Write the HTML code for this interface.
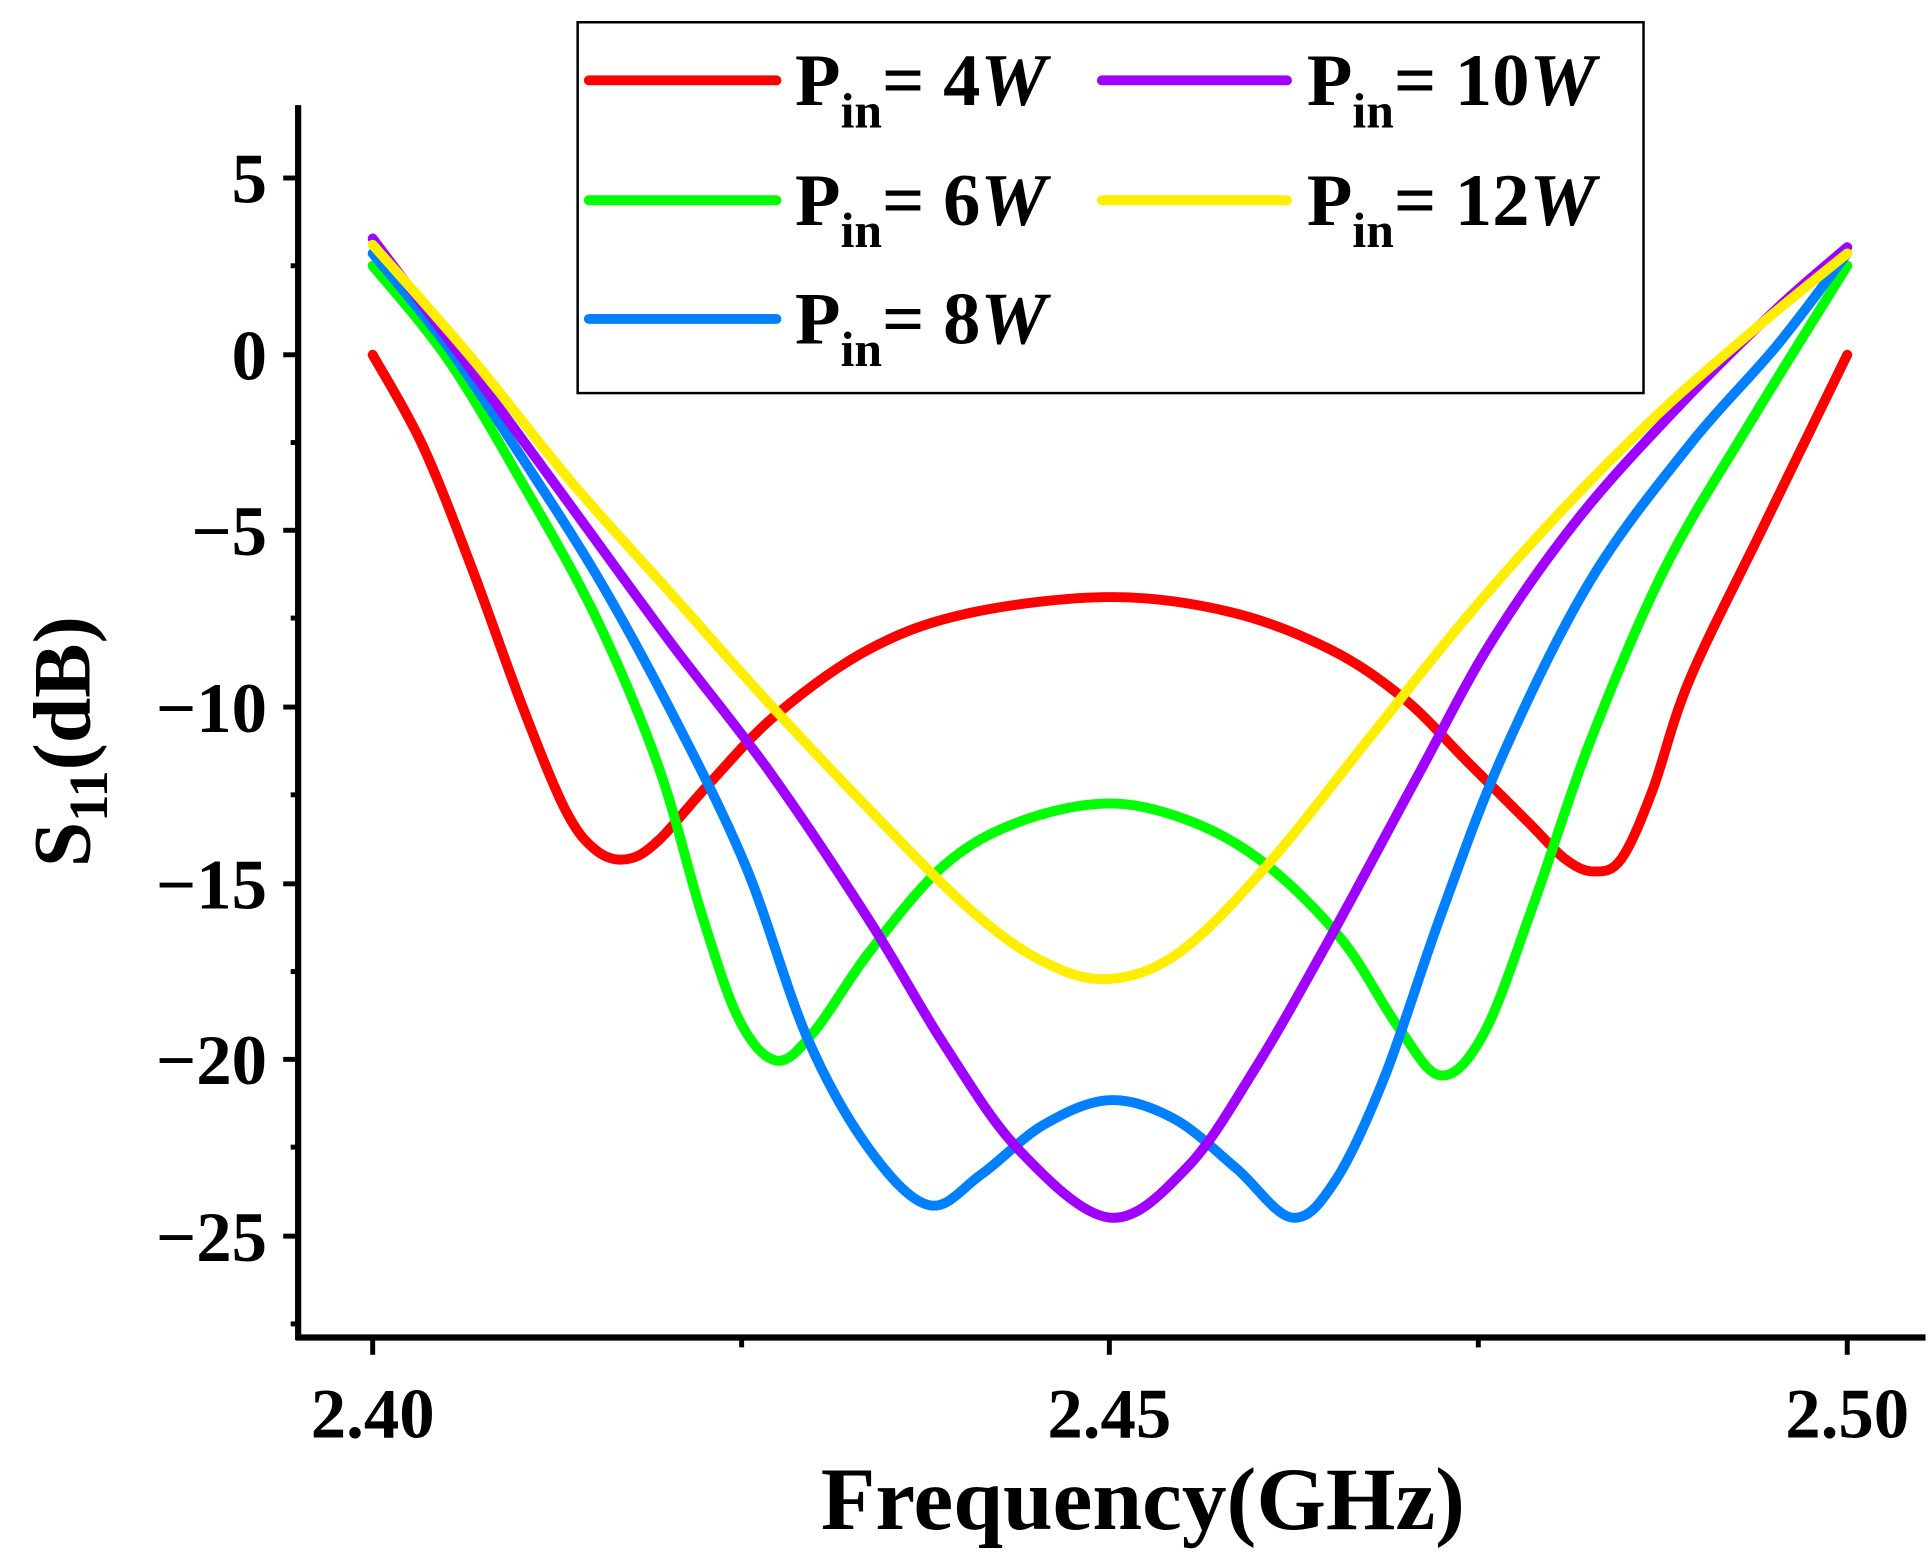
<!DOCTYPE html>
<html><head><meta charset="utf-8"><style>
html,body{margin:0;padding:0;background:#fff;}
svg{display:block;}
text{font-family:"Liberation Serif",serif;font-weight:bold;fill:#000;}
</style></head><body>
<svg id="s" width="1928" height="1560" viewBox="0 0 1552 1262" preserveAspectRatio="none" xmlns="http://www.w3.org/2000/svg">
<rect x="0" y="0" width="1552" height="1262" fill="#fff"/>
<g id="curves" fill="none" stroke-width="8" stroke-linejoin="round" stroke-linecap="round"></g>
<line x1="240" y1="85" x2="240" y2="1084" stroke="#000" stroke-width="5"/>
<line x1="238" y1="1082" x2="1550" y2="1082" stroke="#000" stroke-width="5"/>
<g stroke="#000" stroke-width="4">
<line x1="228" y1="144" x2="240" y2="144"/><line x1="228" y1="287" x2="240" y2="287"/>
<line x1="228" y1="429" x2="240" y2="429"/><line x1="228" y1="572" x2="240" y2="572"/>
<line x1="228" y1="715" x2="240" y2="715"/><line x1="228" y1="857" x2="240" y2="857"/>
<line x1="228" y1="1000" x2="240" y2="1000"/>
<line x1="234" y1="215" x2="240" y2="215"/><line x1="234" y1="358" x2="240" y2="358"/>
<line x1="234" y1="500" x2="240" y2="500"/><line x1="234" y1="643" x2="240" y2="643"/>
<line x1="234" y1="786" x2="240" y2="786"/><line x1="234" y1="928" x2="240" y2="928"/>
<line x1="234" y1="1071" x2="240" y2="1071"/>
<line x1="300" y1="1082" x2="300" y2="1096"/><line x1="893" y1="1082" x2="893" y2="1096"/>
<line x1="1487" y1="1082" x2="1487" y2="1096"/>
<line x1="597" y1="1082" x2="597" y2="1090"/><line x1="1190" y1="1082" x2="1190" y2="1090"/>
</g>
<g font-size="57" text-anchor="end">
<text x="215" y="164">5</text><text x="215" y="307">0</text>
<text x="215" y="449">−5</text><text x="215" y="592">−10</text>
<text x="215" y="735">−15</text><text x="215" y="877">−20</text>
<text x="215" y="1020">−25</text>
</g>
<g font-size="57" text-anchor="middle">
<text x="300" y="1163">2.40</text><text x="893" y="1163">2.45</text><text x="1487" y="1163">2.50</text>
</g>
<text x="920" y="1237" font-size="72" text-anchor="middle">Frequency(GHz)</text>
<text transform="translate(72,600) rotate(-90)" font-size="66" text-anchor="middle">S<tspan font-size="44" dy="14">11</tspan><tspan dy="-14">(dB)</tspan></text>
<rect x="465" y="18" width="858" height="300" fill="#fff" stroke="#000" stroke-width="2"/>
<g stroke-width="8" stroke-linecap="round">
<line x1="474" y1="65" x2="625" y2="65" stroke="#ff0000"/>
<line x1="474" y1="162" x2="625" y2="162" stroke="#00ff00"/>
<line x1="474" y1="258" x2="625" y2="258" stroke="#0080ff"/>
<line x1="887" y1="65" x2="1036" y2="65" stroke="#a000ff"/>
<line x1="887" y1="162" x2="1036" y2="162" stroke="#ffee00"/>
</g>
<g font-size="60">
<text x="640" y="85">P<tspan font-size="40" dy="18">in</tspan><tspan dy="-18">= 4</tspan><tspan font-style="italic">W</tspan></text>
<text x="640" y="182">P<tspan font-size="40" dy="18">in</tspan><tspan dy="-18">= 6</tspan><tspan font-style="italic">W</tspan></text>
<text x="640" y="278">P<tspan font-size="40" dy="18">in</tspan><tspan dy="-18">= 8</tspan><tspan font-style="italic">W</tspan></text>
<text x="1052" y="85">P<tspan font-size="40" dy="18">in</tspan><tspan dy="-18">= 10</tspan><tspan font-style="italic">W</tspan></text>
<text x="1052" y="182">P<tspan font-size="40" dy="18">in</tspan><tspan dy="-18">= 12</tspan><tspan font-style="italic">W</tspan></text>
</g>
</svg>
<script>
var series=[
["#ff0000",[[300,287],[340,360],[380,460],[420,570],[455,655],[480,688],[505,695],[530,680],[570,635],[625,578],[700,525],[780,496],[893,483],[990,495],[1070,525],[1130,565],[1180,615],[1230,665],[1260,695],[1283,705],[1305,695],[1330,640],[1360,550],[1420,425],[1487,287]]],
["#00ff00",[[300,215],[360,290],[420,390],[480,500],[530,620],[565,740],[595,825],[625,858],[655,835],[700,770],[760,700],[820,665],[893,650],[960,665],[1020,700],[1080,760],[1125,830],[1160,870],[1195,835],[1235,730],[1280,600],[1340,460],[1410,340],[1487,215]]],
["#0080ff",[[300,205],[360,280],[420,370],[480,465],[540,575],[600,700],[650,840],[700,930],[748,975],[790,950],[840,910],[893,890],[945,905],[995,945],[1040,985],[1075,955],[1115,870],[1160,740],[1210,610],[1280,470],[1360,360],[1430,280],[1487,205]]],
["#a000ff",[[300,193],[380,300],[460,410],[540,520],[620,625],[700,745],[760,845],[820,930],[893,985],[955,945],[1010,865],[1070,760],[1140,630],[1200,520],[1270,420],[1350,330],[1430,250],[1487,200]]],
["#ffee00",[[300,198],[380,290],[460,390],[540,480],[620,570],[700,655],[780,735],[840,778],[893,792],[950,770],[1020,700],[1100,600],[1180,500],[1260,410],[1340,330],[1420,260],[1487,205]]]
];
var g=document.getElementById('curves');
series.forEach(function(s){
 var p=s[1],d='M'+p[0][0]+','+p[0][1];
 for(var i=0;i<p.length-1;i++){
  var p0=p[Math.max(i-1,0)],p1=p[i],p2=p[i+1],p3=p[Math.min(i+2,p.length-1)];
  var c1=[p1[0]+(p2[0]-p0[0])/6,p1[1]+(p2[1]-p0[1])/6];
  var c2=[p2[0]-(p3[0]-p1[0])/6,p2[1]-(p3[1]-p1[1])/6];
  d+=' C'+c1[0]+','+c1[1]+' '+c2[0]+','+c2[1]+' '+p2[0]+','+p2[1];
 }
 var e=document.createElementNS('http://www.w3.org/2000/svg','path');
 e.setAttribute('d',d);e.setAttribute('stroke',s[0]);g.appendChild(e);
});
</script>
</body></html>
